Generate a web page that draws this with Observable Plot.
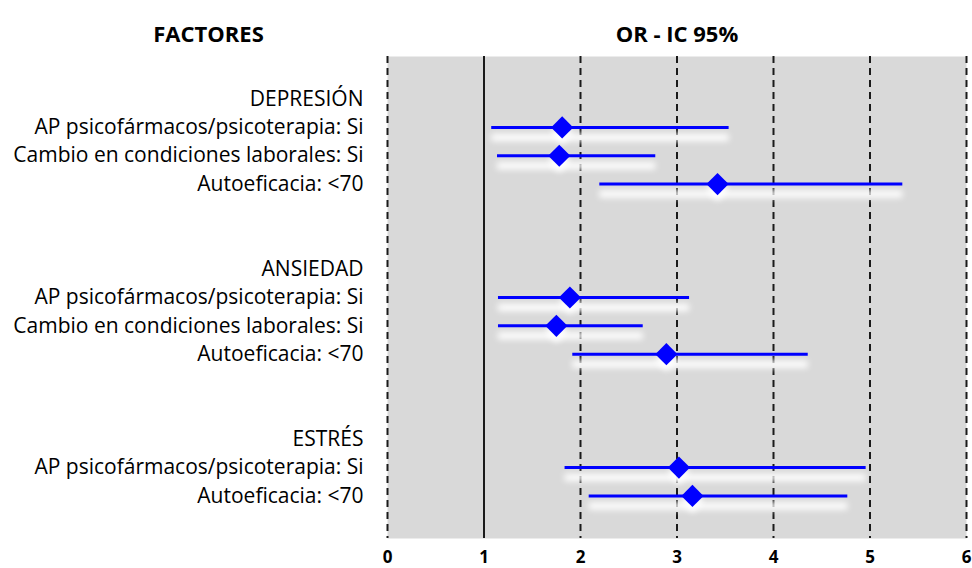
<!DOCTYPE html>
<html>
<head>
<meta charset="utf-8">
<script src="https://cdn.jsdelivr.net/npm/d3@7"></script>
<script src="https://cdn.jsdelivr.net/npm/@observablehq/plot@0.6"></script>
<style>
  html, body { margin: 0; padding: 0; background: #fff; }
  #chart svg { display: block; }
</style>
</head>
<body>
<div id="chart"></div>
<script>
// ---- data ----
const groups = ["DEPRESIÓN", "ANSIEDAD", "ESTRÉS"];
const estGroup = ["DEPRESIÓN", "DEPRESIÓN", "DEPRESIÓN", "ANSIEDAD", "ANSIEDAD", "ANSIEDAD", "ESTRÉS", "ESTRÉS"];
const factorLabels = [
  "AP psicofármacos/psicoterapia: Si",
  "Cambio en condiciones laborales: Si",
  "Autoeficacia: <70",
  "AP psicofármacos/psicoterapia: Si",
  "Cambio en condiciones laborales: Si",
  "Autoeficacia: <70",
  "AP psicofármacos/psicoterapia: Si",
  "Autoeficacia: <70"
];
const orVals = [1.81, 1.78, 3.42, 1.89, 1.75, 2.89, 3.02, 3.16];
const ciLow  = [1.08, 1.14, 2.20, 1.15, 1.15, 1.92, 1.84, 2.09];
const ciHigh = [3.54, 2.78, 5.34, 3.13, 2.65, 4.36, 4.96, 4.77];
const xTicks = [0, 1, 2, 3, 4, 5, 6];
const dashedTicks = [0, 2, 3, 4, 5, 6];
const refLine = [1];

// ---- build rows (group header + its factors, 2 blank rows between groups) ----
const headerRows = [];
const estRows = [];
let row = 0;
groups.forEach((g, gi) => {
  headerRows.push({label: g, row});
  row++;
  estGroup.forEach((eg, i) => {
    if (eg === g) {
      estRows.push({label: factorLabels[i], row, or: orVals[i], lo: ciLow[i], hi: ciHigh[i]});
      row++;
    }
  });
  if (gi < groups.length - 1) row += 2;
});
const lastRow = row - 1;
const labelRows = [...headerRows, ...estRows];

const font = "'Open Sans', Lato, sans-serif";

const chart = Plot.plot({
  width: 972,
  height: 568,
  marginLeft: 387,
  marginRight: 6,
  marginTop: 56,
  marginBottom: 30,
  style: {fontFamily: font, background: "#fff", overflow: "visible"},
  x: {domain: [0, 6], ticks: xTicks, axis: null},
  y: {domain: [-1.5, lastRow + 1.5], reverse: true, axis: null},
  marks: [
    Plot.frame({fill: "#d9d9d9", stroke: null}),
    Plot.ruleX(dashedTicks, {stroke: "#1a1a1a", strokeWidth: 2, strokeDasharray: "7,5"}),
    Plot.ruleX(refLine, {stroke: "#1a1a1a", strokeWidth: 2}),
    // glow shadows
    Plot.ruleY(estRows, {y: "row", x1: "lo", x2: "hi", stroke: "#ffffff", strokeWidth: 7, dy: 10, imageFilter: "blur(3px)"}),
    Plot.dot(estRows, {x: "or", y: "row", symbol: "diamond2", r: 10, fill: "#ffffff", stroke: null, dy: 6, imageFilter: "blur(3px)"}),
    // CI lines
    Plot.ruleY(estRows, {y: "row", x1: "lo", x2: "hi", stroke: "#0000ff", strokeWidth: 3}),
    // OR diamonds
    Plot.dot(estRows, {x: "or", y: "row", symbol: "diamond2", r: 10, fill: "#0000ff", stroke: null}),
    // row labels
    Plot.text(labelRows, {x: () => 0, y: "row", text: "label", textAnchor: "end", dx: -24, fontSize: 21, fill: "#000"}),
    // x tick labels
    Plot.axisX({ticks: xTicks, tickFormat: d3.format("d"), tickSize: 0, tickPadding: 12, fontSize: 17, fontWeight: "bold", anchor: "bottom", color: "#000", label: null}),
    // headers
    Plot.text(["FACTORES"], {frameAnchor: "top-left", dx: 208 - 387, dy: 26 - 56, text: d => d, textAnchor: "middle", fontSize: 22, fontWeight: "bold", fill: "#000"}),
    Plot.text(["OR - IC 95%"], {frameAnchor: "top", dy: 26 - 56, text: d => d, textAnchor: "middle", fontSize: 22, fontWeight: "bold", fill: "#000"})
  ]
});
document.getElementById("chart").appendChild(chart);
</script>
</body>
</html>
